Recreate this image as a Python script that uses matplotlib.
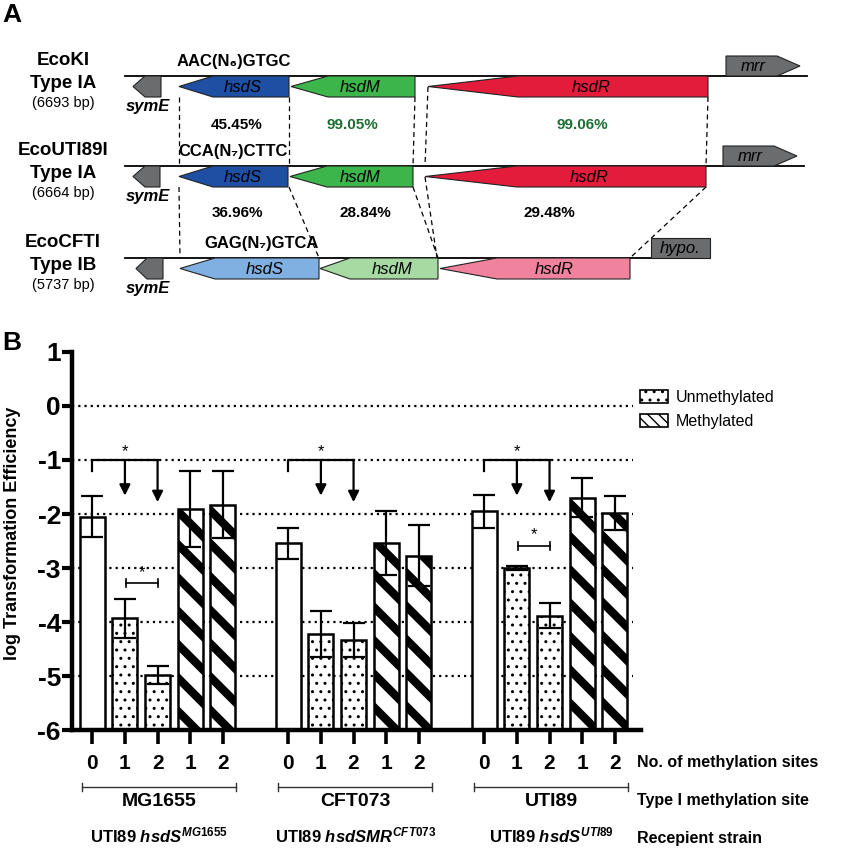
import numpy as np
import matplotlib
matplotlib.use('Agg')
import matplotlib.pyplot as plt
from matplotlib.patches import Polygon, Rectangle, Patch
from matplotlib import font_manager

installed = {f.name for f in font_manager.fontManager.ttflist}
NARROW = 'Liberation Sans Narrow' if 'Liberation Sans Narrow' in installed else 'Liberation Sans'
RIGHT_FS = 14 if NARROW == 'Liberation Sans Narrow' else 11.5

plt.rcParams['font.family'] = ['Liberation Sans', 'DejaVu Sans']
plt.rcParams['mathtext.fontset'] = 'custom'
plt.rcParams['mathtext.it'] = NARROW + ':italic:bold'
plt.rcParams['mathtext.rm'] = NARROW + ':bold'
plt.rcParams['mathtext.bf'] = NARROW + ':bold'

W, H = 844, 850

######################
# panel A: gene maps #
######################
systems = ['EcoKI', 'EcoUTI89I', 'EcoCFTI']
sys_types = ['Type IA', 'Type IA', 'Type IB']
sys_sizes = ['(6693 bp)', '(6664 bp)', '(5737 bp)']
motifs = ['AAC(N₆)GTGC', 'CCA(N₇)CTTC', 'GAG(N₇)GTCA']

# diagram units: (tip, head base, tail) for leftward genes
symE_pos = [(133, 145, 161), (133, 145, 160), (136, 147, 163)]
hsdS_pos = [(179, 213, 289), (179, 213, 288), (180, 215, 319)]
hsdM_pos = [(291, 328, 415), (290, 327, 413), (320, 350, 438)]
hsdR_pos = [(428, 518, 708), (425, 517, 706), (440, 497, 630)]
# (start, head base, tip) for rightward mrr, and hypo box
mrr_pos = [(726, 777, 800), (723, 774, 797), None]
hypo_pos = [None, None, (651, 710)]
line_end = [807, 804, 710]
row_y = [76, 166, 258]

hsdS_cols = ['#1f4fa3', '#1f4fa3', '#80b0e2']
hsdM_cols = ['#3cb54a', '#3cb54a', '#a6daa2']
hsdR_cols = ['#e31c3b', '#e31c3b', '#f1829d']
grey = '#6b6c6e'

hsdS_lab_x = [243, 243, 265]
hsdM_lab_x = [360, 360, 392]
hsdR_lab_x = [591, 589, 554]

ident_1_2 = ['45.45%', '99.05%', '99.06%']
ident_2_3 = ['36.96%', '28.84%', '29.48%']
ident_1_2_x = [237, 352, 582]
ident_2_3_x = [237, 365, 549]
ident_1_2_col = ['black', '#1f6e35', '#1f6e35']

# dashed homology connectors
links = [((179, 97), (179, 166)), ((289, 97), (289, 166)), ((415, 97), (413, 166)),
         ((428, 87), (425, 166)), ((708, 97), (706, 166)),
         ((179, 187), (180, 258)), ((289, 187), (319, 258)), ((413, 187), (438, 258)),
         ((425, 177), (437, 258)), ((706, 187), (630, 258))]

######################################
# panel B: transformation efficiency #
######################################
groups = ['MG1655', 'CFT073', 'UTI89']
site_labels = ['0', '1', '2', '1', '2']
status = ['none', 'unmeth', 'unmeth', 'meth', 'meth']
means = [[-2.05, -3.93, -4.98, -1.91, -1.83],
         [-2.54, -4.22, -4.33, -2.54, -2.77],
         [-1.95, -3.00, -3.88, -1.70, -1.98]]
errs = [[0.38, 0.36, 0.17, 0.70, 0.62],
        [0.29, 0.43, 0.32, 0.59, 0.57],
        [0.30, 0.04, 0.24, 0.36, 0.31]]
strains = [r'UTI89 $\mathit{hsdS}^{\mathit{MG1655}}$',
           r'UTI89 $\mathit{hsdSMR}^{\mathit{CFT073}}$',
           r'UTI89 $\mathit{hsdS}^{\mathit{UTI89}}$']
# arrow tips of the "*" brackets and small comparison brackets
arrow_tips = [-1.66, -1.78]
small_brackets = [-3.28, None, -2.59]

hatches = {'none': '', 'unmeth': '..', 'meth': '\\'}
hatch_lw = {'none': 1.0, 'unmeth': 1.0, 'meth': 6.0}


def left_gene(ax, pos, y, h, color):
    tip, hb, end = pos
    pts = [(tip, y + h / 2), (hb, y), (end, y), (end, y + h), (hb, y + h)]
    ax.add_patch(Polygon(pts, closed=True, fc=color, ec='#222222', lw=0.8, zorder=3))


def right_gene(ax, pos, y, h, color):
    start, hb, tip = pos
    pts = [(start, y), (hb, y), (tip, y + h / 2), (hb, y + h), (start, y + h)]
    ax.add_patch(Polygon(pts, closed=True, fc=color, ec='#222222', lw=0.8, zorder=3))


fig = plt.figure(figsize=(8.44, 8.5), dpi=100)

ax_a = fig.add_axes([0, 0, 1, 1])
ax_a.set_xlim(0, W)
ax_a.set_ylim(H, 0)
ax_a.axis('off')

ax_a.text(12, 15, 'A', fontsize=19, fontweight='bold', ha='center', va='center')
ax_a.text(12, 343, 'B', fontsize=19, fontweight='bold', ha='center', va='center')

gh = 21
for r in range(3):
    y = row_y[r]
    ax_a.plot([125, line_end[r]], [y, y], color='black', lw=1.3, zorder=2)
    left_gene(ax_a, symE_pos[r], y, gh, grey)
    left_gene(ax_a, hsdS_pos[r], y, gh, hsdS_cols[r])
    left_gene(ax_a, hsdM_pos[r], y, gh, hsdM_cols[r])
    left_gene(ax_a, hsdR_pos[r], y, gh, hsdR_cols[r])
    ax_a.text(hsdS_lab_x[r], y + 11, 'hsdS', fontsize=12, style='italic', ha='center', va='center', zorder=4)
    ax_a.text(hsdM_lab_x[r], y + 11, 'hsdM', fontsize=12, style='italic', ha='center', va='center', zorder=4)
    ax_a.text(hsdR_lab_x[r], y + 11, 'hsdR', fontsize=12, style='italic', ha='center', va='center', zorder=4)
    if mrr_pos[r] is not None:
        right_gene(ax_a, mrr_pos[r], y - 20, 20, grey)
        ax_a.text(mrr_pos[r][0] + 27, y - 10, 'mrr', fontsize=12, style='italic', ha='center', va='center', zorder=4)
    if hypo_pos[r] is not None:
        x0, x1 = hypo_pos[r]
        ax_a.add_patch(Rectangle((x0, y - 20), x1 - x0, 20, fc=grey, ec='#222222', lw=0.8, zorder=3))
        ax_a.text((x0 + x1) / 2, y - 10, 'hypo.', fontsize=12, style='italic', ha='center', va='center', zorder=4)
    ax_a.text(148, y + 30, 'symE', fontsize=12, style='italic', fontweight='bold', ha='center', va='center')
    ax_a.text((hsdS_pos[r][0] + hsdS_pos[r][2]) / 2 + (0 if r < 2 else 12), y - 15, motifs[r],
              fontsize=12, fontweight='bold', ha='center', va='center')
    ax_a.text(63, y - 16, systems[r], fontsize=13.5, fontweight='bold', ha='center', va='center')
    ax_a.text(63, y + 7, sys_types[r], fontsize=13.5, fontweight='bold', ha='center', va='center')
    ax_a.text(63, y + 27, sys_sizes[r], fontsize=10.5, ha='center', va='center')

for k in range(3):
    ax_a.text(ident_1_2_x[k], 125, ident_1_2[k], fontsize=11, fontweight='bold',
              color=ident_1_2_col[k], ha='center', va='center')
    ax_a.text(ident_2_3_x[k], 213, ident_2_3[k], fontsize=11, fontweight='bold',
              ha='center', va='center')

for (p0, p1) in links:
    ax_a.plot([p0[0], p1[0]], [p0[1], p1[1]], color='black', lw=0.9, ls=(0, (4, 3)), zorder=1)

######################
# panel B: bar chart #
######################
ax = fig.add_axes([72 / W, 1 - 730 / H, (641 - 72) / W, 378 / H])
ax.set_facecolor('none')
ax.set_xlim(-0.62, 16.8)
ax.set_ylim(-6, 1)

ax.hlines(np.arange(-5, 1), -0.62, 16.55, colors='black', lw=1.6,
          linestyles=[(0, (1, 1.8))], zorder=1)

xpos = []
tr = ax.get_xaxis_transform()
for g in range(3):
    x = np.arange(5) + 6 * g
    xpos.extend(x)
    for i in range(5):
        bars = ax.bar(x[i], means[g][i] + 6, bottom=-6, width=0.77, color='white',
                      edgecolor='black', linewidth=1.8, hatch=hatches[status[i]], zorder=2)
        for b in bars:
            if hasattr(b, 'set_hatch_linewidth'):
                b.set_hatch_linewidth(hatch_lw[status[i]])
    ax.errorbar(x, means[g], yerr=errs[g], fmt='none', ecolor='black', elinewidth=1.6,
                capsize=8, capthick=1.6, zorder=3)

    # significance bracket with arrows
    ax.plot([x[0], x[0], x[2]], [-1.2, -1, -1], color='black', lw=1.6, zorder=3)
    for j, tip in zip([1, 2], arrow_tips):
        ax.annotate('', xy=(x[j], tip), xytext=(x[j], -1),
                    arrowprops=dict(arrowstyle='-|>', color='black', lw=1.6,
                                    mutation_scale=16, shrinkA=0, shrinkB=0), zorder=3)
    ax.text(x[1], -0.85, '*', fontsize=12, ha='center', va='center')
    if small_brackets[g] is not None:
        yb = small_brackets[g]
        xa, xb = x[1] + 0.03, x[2]
        ax.plot([xa, xb], [yb, yb], color='black', lw=1.2, zorder=3)
        ax.plot([xa, xa], [yb - 0.08, yb + 0.08], color='black', lw=1.2, zorder=3)
        ax.plot([xb, xb], [yb - 0.08, yb + 0.08], color='black', lw=1.2, zorder=3)
        ax.text((xa + xb) / 2, yb + 0.2, '*', fontsize=12, ha='center', va='center')

    # group annotations below the axis
    mid = x[2] + 0.05
    ax.plot([mid - 2.35, mid + 2.35], [-0.151, -0.151], color='#333333', lw=1.0,
            transform=tr, clip_on=False)
    for xe in (mid - 2.35, mid + 2.35):
        ax.plot([xe, xe], [-0.151 - 0.01, -0.151 + 0.01], color='#333333', lw=1.0,
                transform=tr, clip_on=False)
    ax.text(mid, -0.188, groups[g], fontsize=14, fontweight='bold', family=NARROW,
            ha='center', va='center', transform=tr)
    ax.text(mid, -0.28, strains[g], fontsize=12, fontweight='bold', family=NARROW,
            ha='center', va='center', transform=tr)

ax.set_xticks(xpos)
ax.set_xticklabels(site_labels * 3, fontsize=15, fontweight='bold', family=NARROW)
ax.set_yticks(np.arange(-6, 2))
ax.set_yticklabels([str(v) for v in range(-6, 2)], fontsize=19, fontweight='bold')

ax.tick_params(axis='y', length=7, width=3, pad=1)
ax.tick_params(axis='x', length=10, width=2.6, pad=7)
for s in ['top', 'right']:
    ax.spines[s].set_visible(False)
for s in ['left', 'bottom']:
    ax.spines[s].set_linewidth(3.2)

fig.text(13 / W, 1 - 533 / H, 'log Transformation Efficiency', rotation=90, fontsize=13,
         fontweight='bold', ha='center', va='center')

for txt, py in zip(['No. of methylation sites', 'Type I methylation site', 'Recepient strain'],
                   [762, 801, 838]):
    fig.text(637 / W, 1 - py / H, txt, fontsize=RIGHT_FS, fontweight='bold', family=NARROW,
             ha='left', va='center')

leg_handles = [Patch(fc='white', ec='black', hatch='..', lw=1.2),
               Patch(fc='white', ec='black', hatch='\\\\\\', lw=1.2)]
if hasattr(leg_handles[1], 'set_hatch_linewidth'):
    leg_handles[1].set_hatch_linewidth(2.5)
ax.legend(leg_handles, ['Unmethylated', 'Methylated'], loc='upper left',
          bbox_to_anchor=(0.998, 0.9), frameon=False, fontsize=11.5, handlelength=1.75,
          handleheight=0.9, labelspacing=0.55, borderpad=0, borderaxespad=0, handletextpad=0.5)

fig.savefig('out.png', dpi=100)
